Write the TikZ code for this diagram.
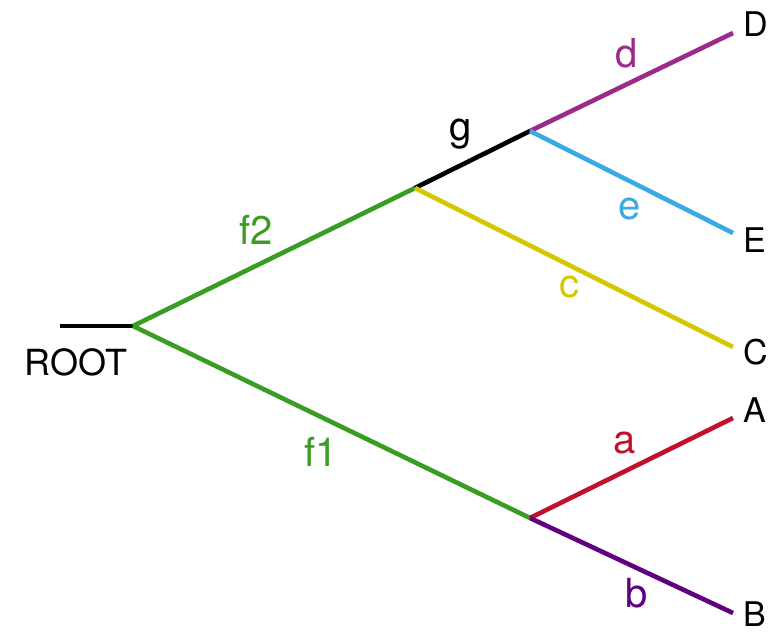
\documentclass[tikz,border=0pt]{standalone}
\usepackage{fontspec}
\setmainfont{TeX Gyre Heros}
\usepackage{xcolor}
\usepackage{tikz}
\definecolor{verde}{HTML}{3A9D23}
\definecolor{magenta}{HTML}{9C2A8A}
\definecolor{azzurro}{HTML}{3BA9E6}
\definecolor{giallo}{HTML}{D6C800}
\definecolor{rosso}{HTML}{C0102A}
\definecolor{viola}{HTML}{600080}

\begin{document}
\begin{tikzpicture}[x=1pt, y=-1pt, line width=4.6pt,
        foglia/.style={font=\fontsize{34}{38}\selectfont, inner sep=0pt},
        ramo/.style={font=\fontsize{40}{44}\selectfont, inner sep=0pt, midway}]
        \useasboundingbox (0,0) rectangle (769,634);
        % Nodi interni
        \coordinate (inizio) at (60,326);
        \coordinate (radice) at (133,326);
        \coordinate (nf2) at (415,188);
        \coordinate (ng) at (530,131);
        \coordinate (nf1) at (530,518);
        % Foglie
        \foreach \nome/\x/\y/\ly in {D/33/24, E/233/240, C/347/352, A/418/410, B/613/614}
            {
                \coordinate (p\nome) at (733,\x);
                \node[foglia, anchor=west] (\nome) at (741,\ly) {\nome};
            }
        \node[foglia, font=\fontsize{36}{40}\selectfont] (ROOT) at (76,362) {ROOT};
        % Rami
        \draw (inizio) -- (radice);
        \draw[verde] (radice) -- (nf2) node[ramo, shift={(-18,-27)}] (lf2) {f2};
        \draw[verde] (radice) -- (nf1) node[ramo, shift={(-10,30)}] (lf1) {f1};
        \draw (nf2) -- (ng) node[ramo, shift={(-12,-25)}] (lg) {g};
        \draw[giallo] (nf2) -- (pC) node[ramo, shift={(-5,20)}] (lc) {c};
        \draw[magenta] (ng) -- (pD) node[ramo, shift={(-5,-29)}] (ld) {d};
        \draw[azzurro] (ng) -- (pE) node[ramo, shift={(-2,27)}] (le) {e};
        \draw[rosso] (nf1) -- (pA) node[ramo, shift={(-7,-25)}] (la) {a};
        \draw[viola] (nf1) -- (pB) node[ramo, shift={(5,28)}] (lb) {b};
    \end{tikzpicture}
\end{document}
